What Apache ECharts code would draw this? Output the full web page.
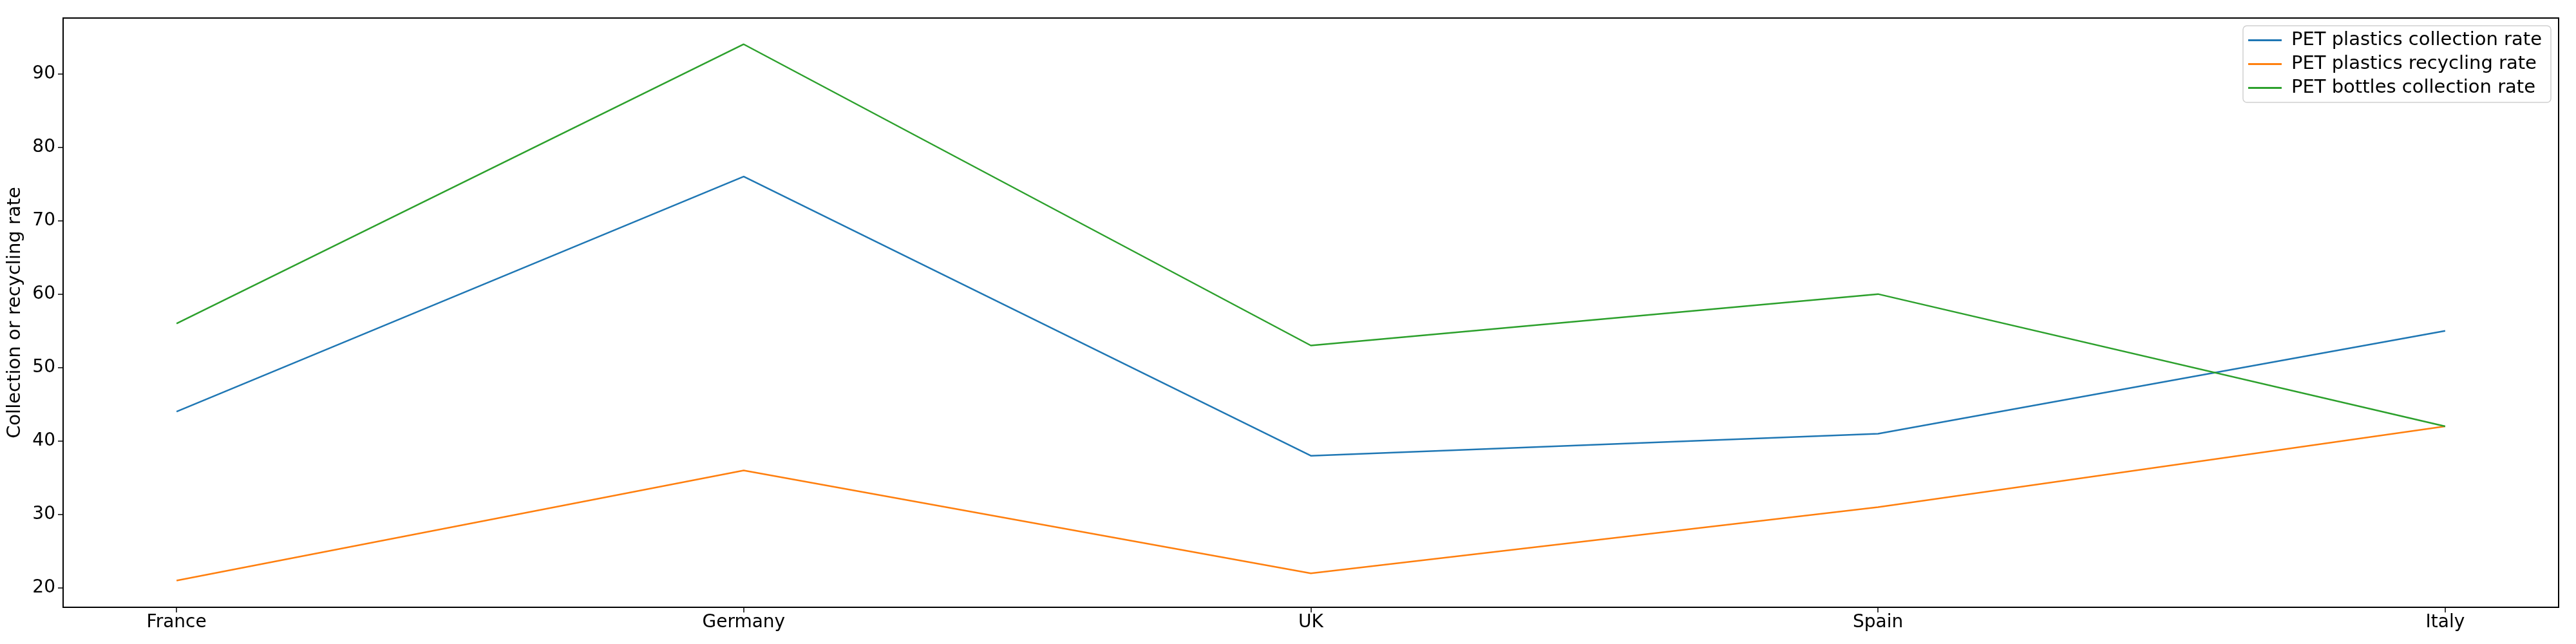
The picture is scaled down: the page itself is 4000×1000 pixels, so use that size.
<!DOCTYPE html>
<html><head><meta charset="utf-8">
<script src="https://cdn.jsdelivr.net/npm/echarts@6/dist/echarts.min.js"></script>
<style>html,body{margin:0;padding:0;background:#fff}#c{width:4000px;height:1000px}</style>
</head><body><div id="c"></div>
<script>
const categories = ['France','Germany','UK','Spain','Italy'];
const seriesNames = ['PET plastics collection rate','PET plastics recycling rate','PET bottles collection rate'];
const collectionRate = [44, 76, 38, 41, 55];
const recyclingRate = [21, 36, 22, 31, 42];
const bottlesRate = [56, 94, 53, 60, 42];
const colors = ['#1f77b4','#ff7f0e','#2ca02c'];
const allData = [collectionRate, recyclingRate, bottlesRate];
const font = 'DejaVu Sans';
const chart = echarts.init(document.getElementById('c'));
chart.setOption({
  animation:false,
  grid:{left:98,right:27,top:28,bottom:57,show:true,borderColor:'#000',borderWidth:2,backgroundColor:'transparent'},
  legend:{right:39,top:40,orient:'vertical',itemWidth:52,itemHeight:3,itemGap:8,
    borderColor:'#d0d0d0',borderWidth:1.5,borderRadius:6,padding:[8,14,8,8],
    icon:'rect',textStyle:{fontFamily:font,fontSize:29,color:'#000',padding:[0,0,0,10]},
    data:seriesNames},
  xAxis:{type:'value',min:-0.2,max:4.2,interval:1,
    axisLine:{show:false,onZero:false},splitLine:{show:false},
    axisTick:{show:true,length:8,lineStyle:{color:'#000',width:1.5},customValues:[0,1,2,3,4]},
    axisLabel:{fontFamily:font,fontSize:28,color:'#000',margin:10,customValues:[0,1,2,3,4],
      formatter:v=>categories[Math.round(v)]}},
  yAxis:{type:'value',min:17.37,max:97.57,
    name:'Collection or recycling rate',nameLocation:'middle',nameGap:60,
    nameTextStyle:{fontFamily:font,fontSize:29,color:'#000'},
    axisLine:{show:false,onZero:false},splitLine:{show:false},
    axisTick:{show:true,length:8,lineStyle:{color:'#000',width:1.5},customValues:[20,30,40,50,60,70,80,90]},
    axisLabel:{fontFamily:font,fontSize:28,color:'#000',margin:12,customValues:[20,30,40,50,60,70,80,90]}},
  series: seriesNames.map((n,i)=>({name:n,type:'line',showSymbol:false,symbol:'none',
    color:colors[i],lineStyle:{width:2.5,color:colors[i]},
    data:allData[i].map((v,j)=>[j,v])}))
});
</script></body></html>
